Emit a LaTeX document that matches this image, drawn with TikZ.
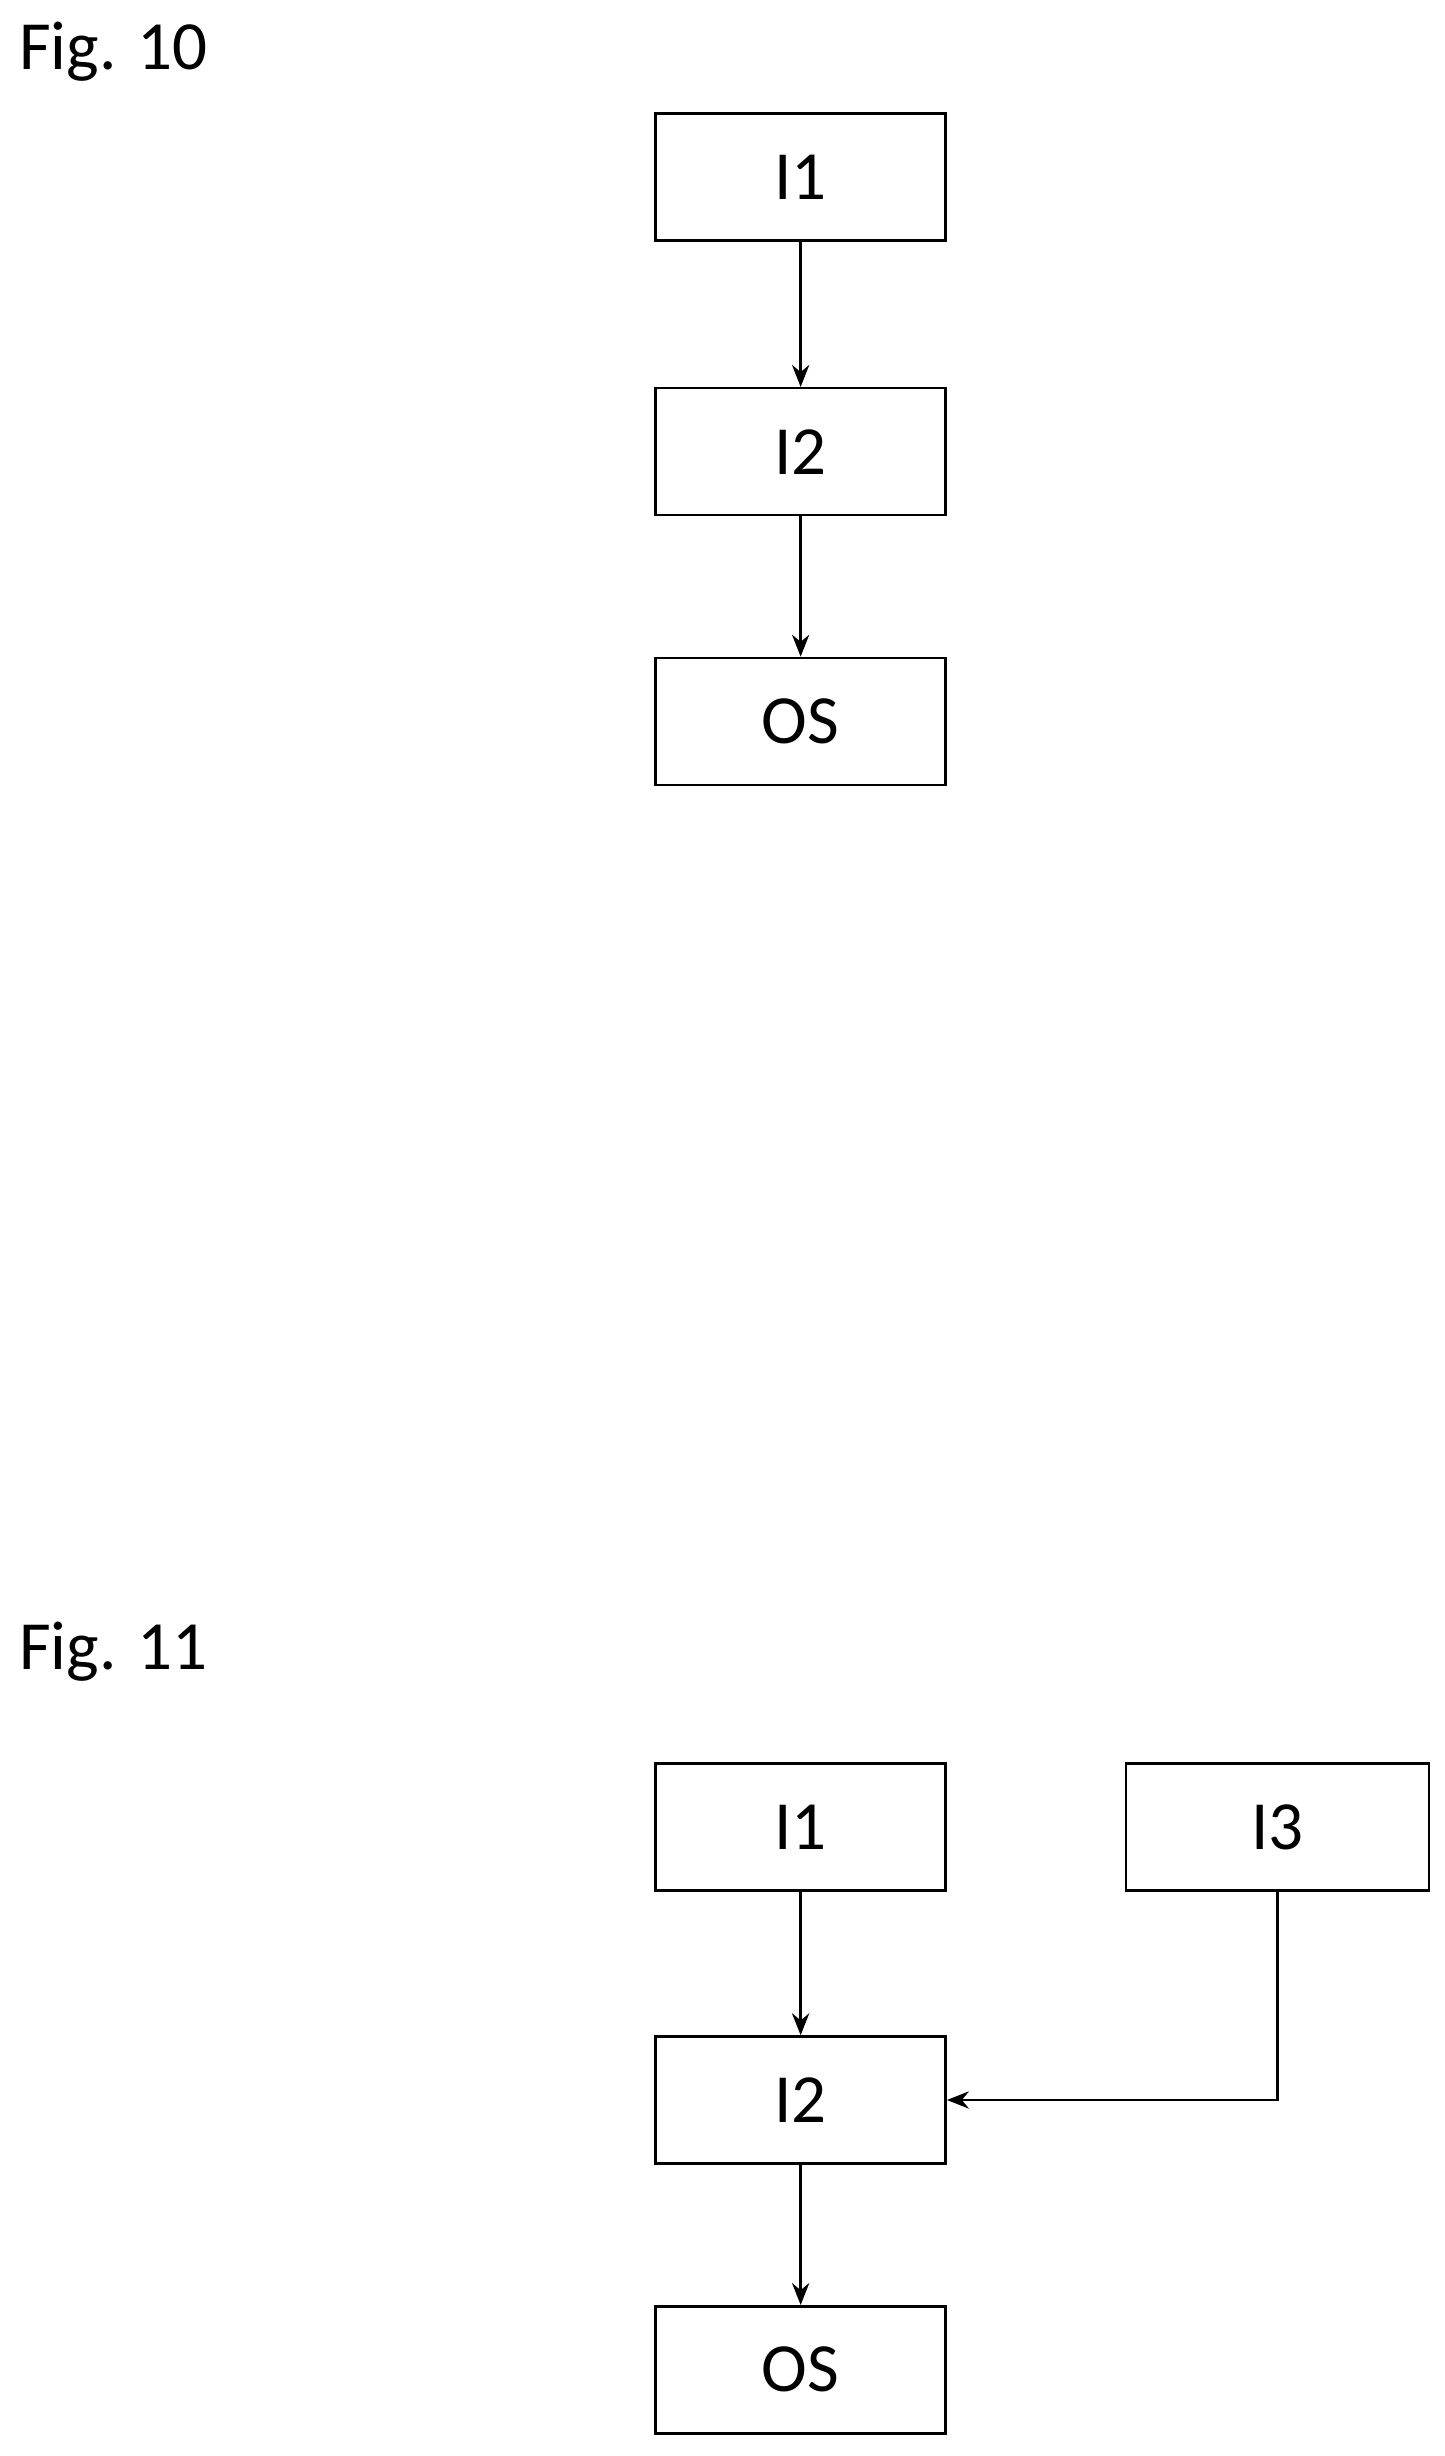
\documentclass[tikz,border=0pt]{standalone}
\usepackage{fontspec}
\setmainfont{Carlito}
\usetikzlibrary{arrows.meta}
\begin{document}
\begin{tikzpicture}[x=1pt,y=-1pt,
  box/.style={draw,line width=1.6pt,minimum width=185pt,minimum height=81pt,inner sep=0pt,font=\fontsize{44}{50}\selectfont},
  arr/.style={line width=1.6pt,-{Stealth[length=14pt,width=11pt]}},
  lab/.style={anchor=north west,inner sep=0pt,font=\fontsize{44}{50}\selectfont}]
\useasboundingbox (0,0) rectangle (921,1566);
\node[lab] (f10) at (12,14) {Fig. 10};
\node[box] (a1) at (510.5,113) {I1};
\node[box] (a2) at (510.5,288) {I2};
\node[box] (a3) at (510.5,460) {OS};
\draw[arr] (a1) -- (a2);
\draw[arr] (a2) -- (a3);
\node[lab] (f11) at (12,1034) {Fig. 11};
\node[box] (b1) at (510.5,1165) {I1};
\node[box,minimum width=193pt] (b3) at (814.5,1165) {I3};
\node[box] (b2) at (510.5,1339) {I2};
\node[box] (b4) at (510.5,1511) {OS};
\draw[arr] (b1) -- (b2);
\draw[arr] (b2) -- (b4);
\draw[arr] (b3.south) |- (b2.east);
\end{tikzpicture}
\end{document}
